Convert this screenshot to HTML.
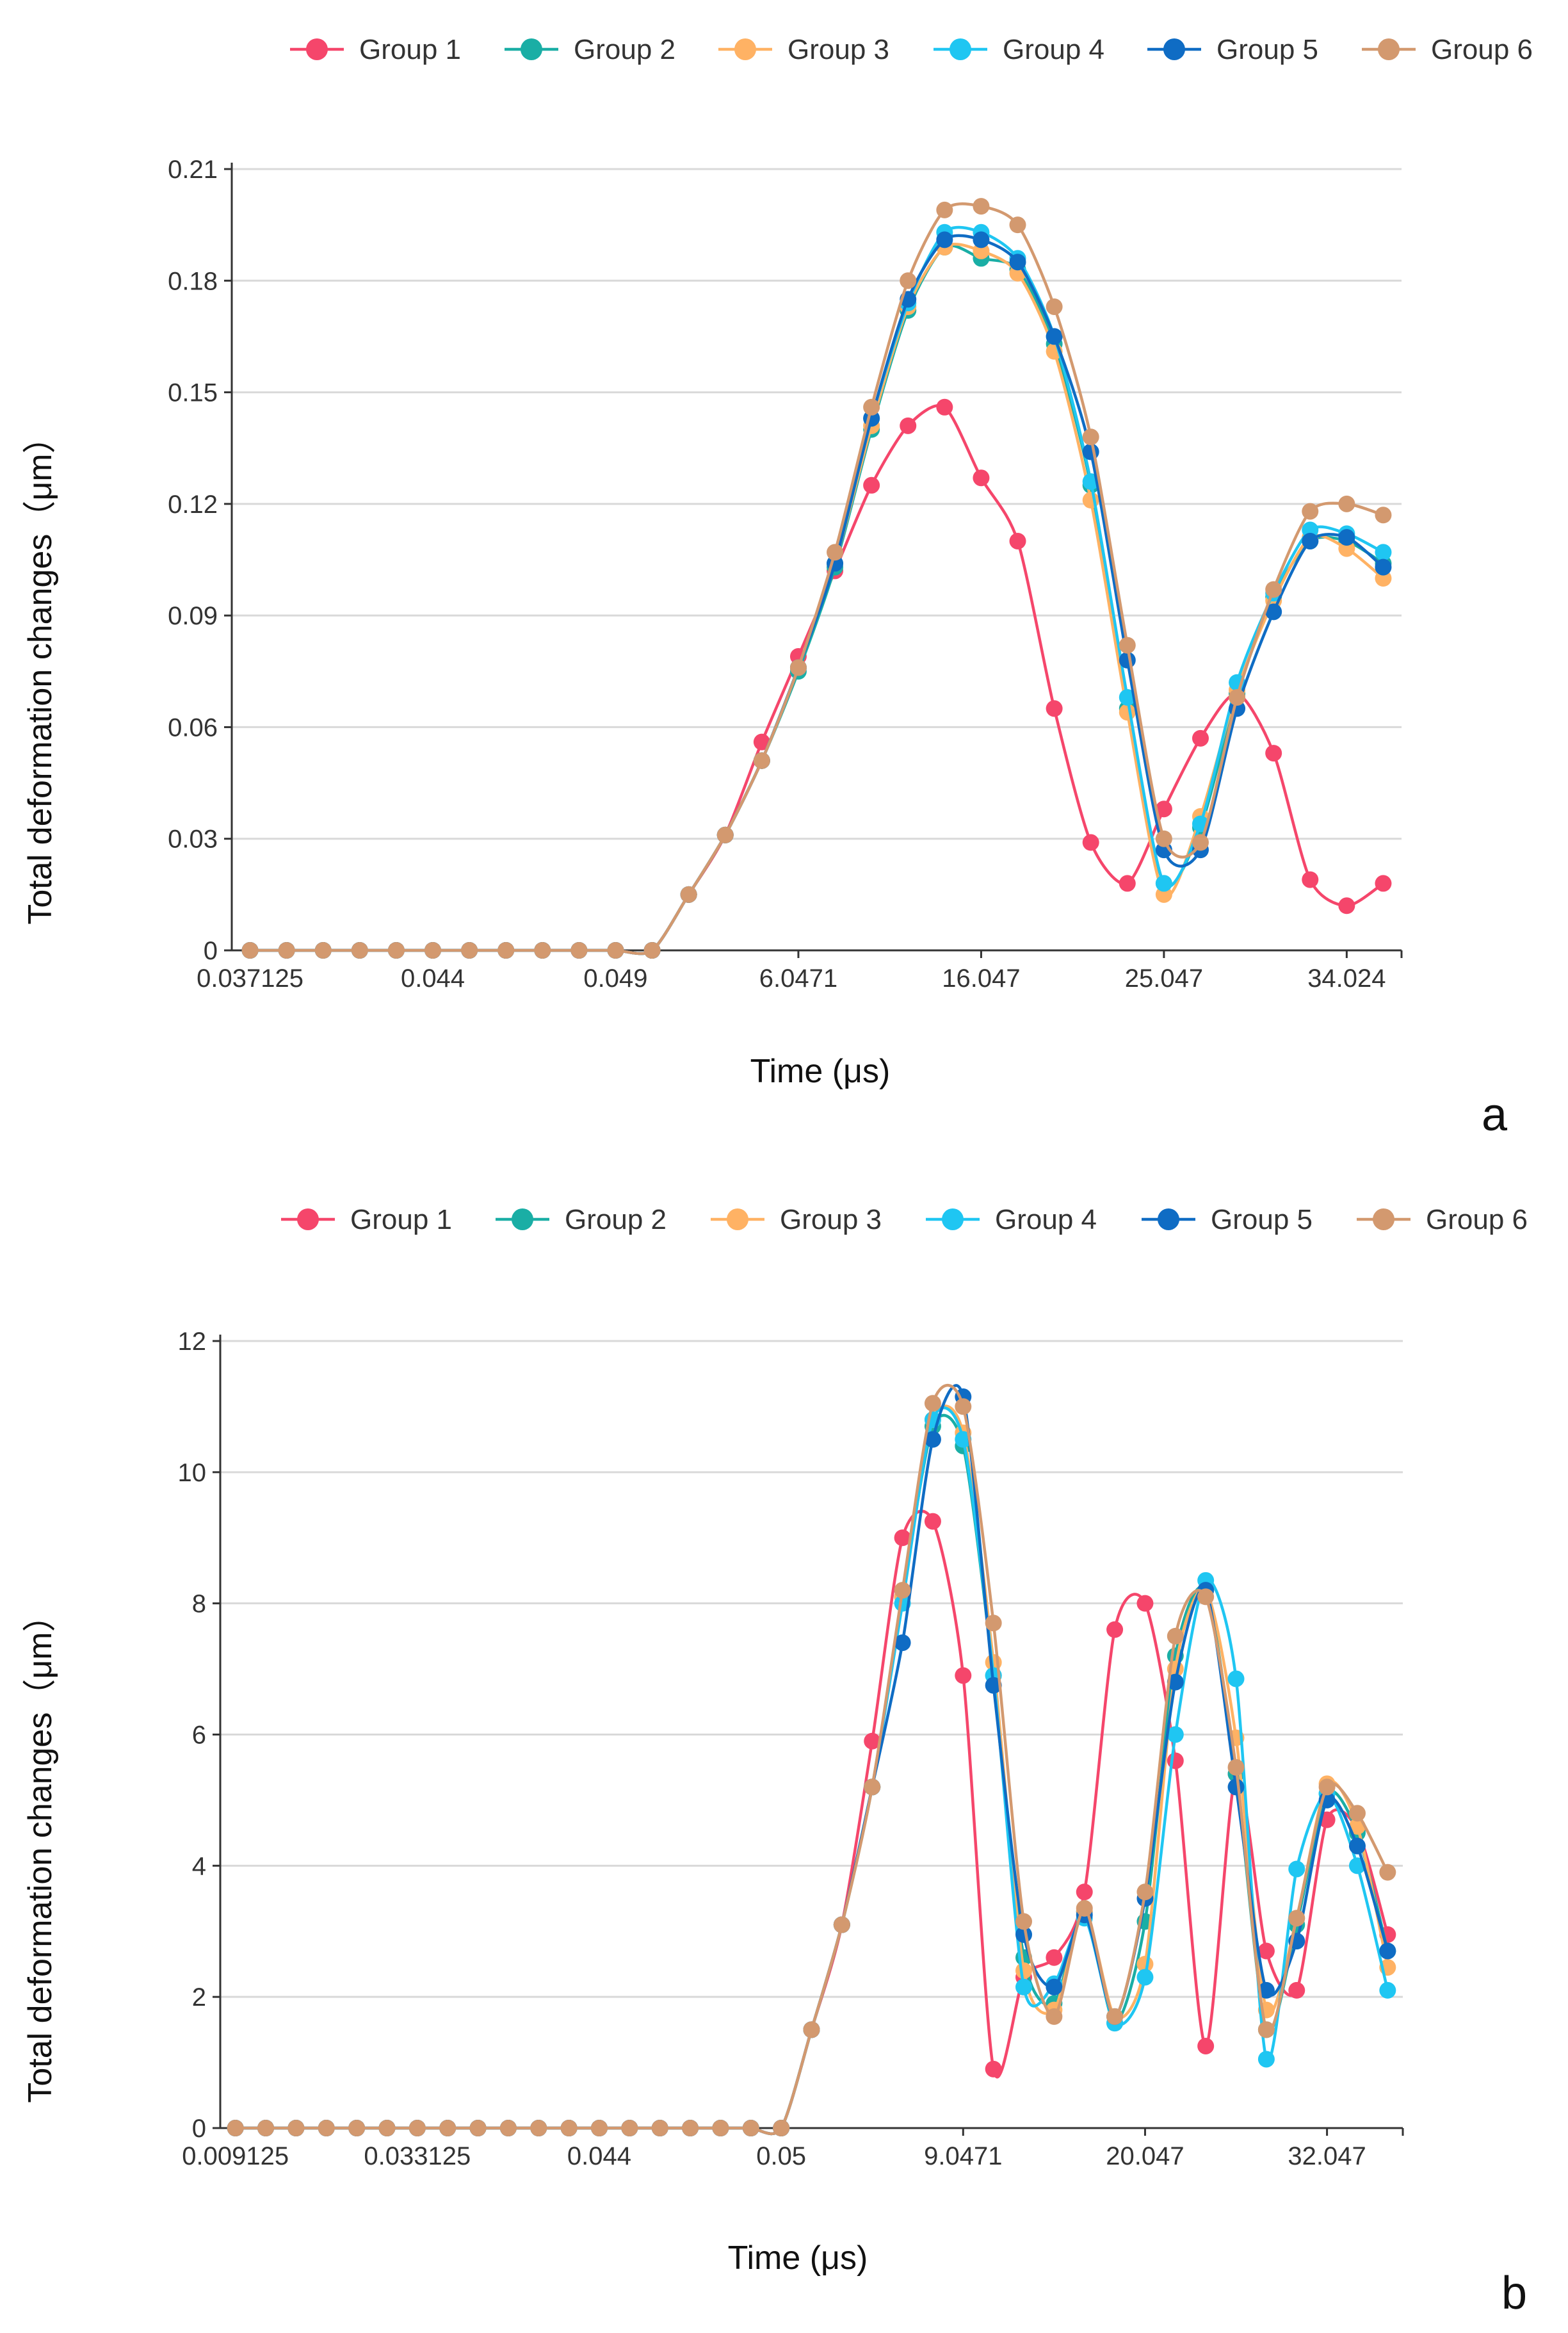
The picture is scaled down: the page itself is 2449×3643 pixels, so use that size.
<!DOCTYPE html>
<html><head><meta charset="utf-8">
<style>
html,body{margin:0;padding:0;background:#fff;}
svg{display:block;font-family:"Microsoft YaHei","Liberation Sans",sans-serif;}
</style></head>
<body>
<svg id="root" width="2449" height="3643" viewBox="0 0 2449 3643" xmlns="http://www.w3.org/2000/svg"></svg>
<script>
const seriesNames=["Group 1","Group 2","Group 3","Group 4","Group 5","Group 6"];
const seriesColors=["#f5466b","#1aaea5","#ffb264","#1fc6f2","#0f6cc4","#d3996f"];
// Chart a
const labelsA=["0.037125","0.044","0.049","6.0471","16.047","25.047","34.024"];
const ticksA=[0,0.03,0.06,0.09,0.12,0.15,0.18,0.21];
const z12=[0,0,0,0,0,0,0,0,0,0,0,0];
const a1=z12.concat([0.015,0.031,0.056,0.079,0.102,0.125,0.141,0.146,0.127,0.110,0.065,0.029,0.018,0.038,0.057,0.069,0.053,0.019,0.012,0.018]);
const a2=z12.concat([0.015,0.031,0.051,0.075,0.103,0.140,0.172,0.189,0.186,0.183,0.163,0.125,0.065,0.018,0.033,0.069,0.095,0.110,0.110,0.104]);
const a3=z12.concat([0.015,0.031,0.051,0.076,0.104,0.141,0.173,0.189,0.188,0.182,0.161,0.121,0.064,0.015,0.036,0.070,0.094,0.111,0.108,0.100]);
const a4=z12.concat([0.015,0.031,0.051,0.076,0.104,0.143,0.174,0.193,0.193,0.186,0.165,0.126,0.068,0.018,0.034,0.072,0.096,0.113,0.112,0.107]);
const a5=z12.concat([0.015,0.031,0.051,0.076,0.104,0.143,0.175,0.191,0.191,0.185,0.165,0.134,0.078,0.027,0.027,0.065,0.091,0.110,0.111,0.103]);
const a6=z12.concat([0.015,0.031,0.051,0.076,0.107,0.146,0.180,0.199,0.200,0.195,0.173,0.138,0.082,0.030,0.029,0.068,0.097,0.118,0.120,0.117]);
// Chart b
const labelsB=["0.009125","0.033125","0.044","0.05","9.0471","20.047","32.047"];
const ticksB=[0,2,4,6,8,10,12];
const z19=new Array(19).fill(0);
const b1=z19.concat([1.5,3.1,5.9,9.0,9.25,6.9,0.9,2.3,2.6,3.6,7.6,8.0,5.6,1.25,5.4,2.7,2.1,4.7,4.55,2.95]);
const b2=z19.concat([1.5,3.1,5.2,8.1,10.7,10.4,6.9,2.6,1.9,3.3,1.6,3.15,7.2,8.2,5.4,1.5,3.1,5.1,4.5,2.7]);
const b3=z19.concat([1.5,3.1,5.2,8.1,10.8,10.6,7.1,2.4,1.8,3.3,1.7,2.5,7.0,8.2,5.95,1.8,3.2,5.25,4.6,2.45]);
const b4=z19.concat([1.5,3.1,5.2,8.0,10.8,10.5,6.9,2.15,2.2,3.2,1.6,2.3,6.0,8.35,6.85,1.05,3.95,5.1,4.0,2.1]);
const b5=z19.concat([1.5,3.1,5.2,7.4,10.5,11.15,6.75,2.95,2.15,3.25,1.7,3.5,6.8,8.2,5.2,2.1,2.85,5.0,4.3,2.7]);
const b6=z19.concat([1.5,3.1,5.2,8.2,11.05,11.0,7.7,3.15,1.7,3.35,1.7,3.6,7.5,8.1,5.5,1.5,3.2,5.2,4.8,3.9]);

const NS="http://www.w3.org/2000/svg";
const root=document.getElementById('root');
function mk(tag,attrs,parent,text){const e=document.createElementNS(NS,tag);for(const k in attrs)e.setAttribute(k,attrs[k]);if(text!==undefined)e.textContent=text;(parent||root).appendChild(e);return e;}
function smoothPath(pts){
  let d="M"+pts[0][0]+","+pts[0][1];
  for(let i=0;i<pts.length-1;i++){
    const p0=pts[Math.max(0,i-1)],p1=pts[i],p2=pts[i+1],p3=pts[Math.min(pts.length-1,i+2)];
    const t=0.26;
    const c1x=p1[0]+(p2[0]-p0[0])*t/2,c1y=p1[1]+(p2[1]-p0[1])*t/2;
    const c2x=p2[0]-(p3[0]-p1[0])*t/2,c2y=p2[1]-(p3[1]-p1[1])*t/2;
    d+=" C"+c1x+","+c1y+" "+c2x+","+c2y+" "+p2[0]+","+p2[1];
  }
  return d;
}
function drawChart(cfg){
  const g=mk('g',{},root);
  
  
  const {left,right,y0,yTop,ticks,labels,series,n,labelEvery}=cfg;
  const yMax=ticks[ticks.length-1];
  const yS=v=>y0-(v/yMax)*(y0-yTop);
  const bw=(right-left)/n;
  const xS=i=>left+bw*(i+0.5);
  const lg=mk('g',{},g);
  
  
  series.forEach((s,k)=>{
    const cx=cfg.legendX[k];
    const it=mk('g',{},lg);
    
    
    mk('line',{x1:cx-42,y1:cfg.legendY,x2:cx+42,y2:cfg.legendY,stroke:seriesColors[k],'stroke-width':4.5},it);
    mk('circle',{cx:cx,cy:cfg.legendY,r:17,fill:seriesColors[k]},it);
    mk('text',{x:cx+66,y:cfg.legendY+15,'font-size':44,fill:'#333'},it,seriesNames[k]);
  });
  ticks.forEach(t=>{
    const y=yS(t);
    if(t!==0){const gl=mk('line',{x1:left,y1:y,x2:right,y2:y,stroke:'#d9d9d9','stroke-width':3},g);
      }
    mk('line',{x1:left-12,y1:y,x2:left,y2:y,stroke:'#333','stroke-width':3},g);
    const tx=mk('text',{x:left-22,y:y+14,'font-size':40,fill:'#333','text-anchor':'end'},g,String(t));
    
  });
  const ya=mk('line',{x1:left,y1:yTop-10,x2:left,y2:y0,stroke:'#333','stroke-width':3},g);
  
  const xa=mk('line',{x1:left,y1:y0,x2:right,y2:y0,stroke:'#333','stroke-width':3},g);
  
  labels.forEach((l,j)=>{
    const x=xS(j*labelEvery);
    mk('line',{x1:x,y1:y0,x2:x,y2:y0+12,stroke:'#333','stroke-width':3},g);
    const tx=mk('text',{x:x,y:y0+57,'font-size':40,fill:'#333','text-anchor':'middle'},g,l);
    
  });
  mk('line',{x1:right,y1:y0,x2:right,y2:y0+12,stroke:'#333','stroke-width':3},g);
  series.forEach((arr,k)=>{
    const sg=mk('g',{},g);
    
    
    const pts=arr.map((v,i)=>[xS(i),yS(v)]);
    const p=mk('path',{d:smoothPath(pts),fill:'none',stroke:seriesColors[k],'stroke-width':4.5},sg);
    
    
    pts.forEach(q=>{
      const c=mk('circle',{cx:q[0],cy:q[1],r:13,fill:seriesColors[k]},sg);
      
      
    });
  });
  const yt=mk('text',{x:0,y:0,'font-size':52,fill:'#111','text-anchor':'middle',transform:`translate(${cfg.yTitleX},${cfg.yTitleY}) rotate(-90)`},g,'Total deformation changes（μm）');
  
  const xt=mk('text',{x:cfg.xTitleX,y:cfg.xTitleY,'font-size':52,fill:'#111','text-anchor':'middle'},g,'Time (μs)');
  
  const pl=mk('text',{x:cfg.panelX,y:cfg.panelY,'font-size':72,fill:'#111','text-anchor':'middle'},g,cfg.panel);
  
}
drawChart({name:'chart-a',left:362,right:2189,y0:1484,yTop:264,ticks:ticksA,labels:labelsA,n:32,labelEvery:5,
  series:[a1,a2,a3,a4,a5,a6],legendY:77,legendX:[495,830,1164,1500,1834,2169],
  yTitleX:80,yTitleY:1050,xTitleX:1281,xTitleY:1690,panel:'a',panelX:2334,panelY:1765});
drawChart({name:'chart-b',left:344,right:2191,y0:3323,yTop:2094,ticks:ticksB,labels:labelsB,n:39,labelEvery:6,
  series:[b1,b2,b3,b4,b5,b6],legendY:1904,legendX:[481,816,1152,1488,1825,2161],
  yTitleX:80,yTitleY:2890,xTitleX:1246,xTitleY:3543,panel:'b',panelX:2365,panelY:3605});
</script>
</body></html>
